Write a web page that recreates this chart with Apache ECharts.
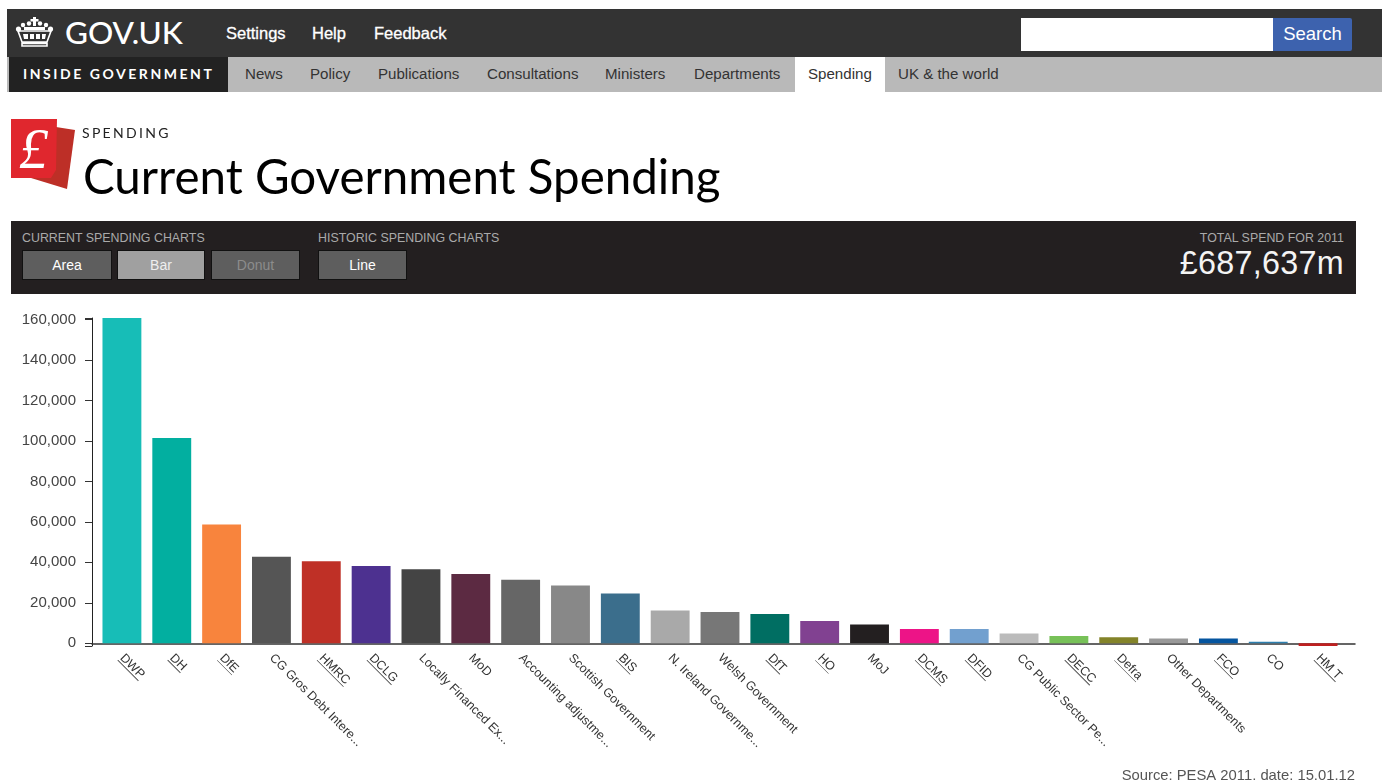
<!DOCTYPE html>
<html>
<head>
<meta charset="utf-8">
<title>Current Government Spending</title>
<script src="https://cdn.jsdelivr.net/npm/echarts@6/dist/echarts.min.js"></script>
<style>
  html, body { margin: 0; padding: 0; width: 1387px; height: 780px; overflow: hidden; background: #fff; }
  body { font-family: "Liberation Sans", Arial, sans-serif; position: relative; }
  #chart { position: absolute; left: 0; top: 0; width: 1387px; height: 780px; }
  .abs { position: absolute; white-space: nowrap; }
  .bar-top { left: 7px; right: 5px; top: 9px; height: 48px; background: #333; }
  .bar-nav { left: 7px; right: 5px; top: 57px; height: 35px; background: #b9b9b9; }
  .inside { left: 9px; top: 57px; width: 219px; height: 35px; background: #222; color: #fff; font: 700 14px/34px Lato, sans-serif; letter-spacing: 2.55px; text-indent: 14px; }
  .gov { left: 65px; top: 12px; color: #fff; font: 500 31.5px/40px Lato, sans-serif; }
  .top-link { top: 24px; color: #fff; font-size: 16.5px; line-height: 18px; font-weight: 400; -webkit-text-stroke: .3px #fff; }
  .nav-link { top: 65px; color: #333; font-size: 15.1px; line-height: 18px; }
  .tab { left: 795px; top: 57px; width: 90px; height: 35px; background: #fff; }
  .search { left: 1021px; top: 18px; width: 252px; height: 33px; background: #fff; }
  .search-btn { left: 1273px; top: 18px; width: 79px; height: 33px; background: #3d62ae; color: #fff; font-size: 18.5px; line-height: 32px; text-align: center; border-radius: 0 2px 2px 0; }
  .section { left: 82px; top: 124px; color: #222; font: 400 14px/18px Lato, sans-serif; letter-spacing: 2.3px; }
  .title { left: 83px; top: 146px; color: #000; font: 400 47.5px/60px Lato, sans-serif; }
  .panel { left: 11px; top: 221px; width: 1345px; height: 73px; background: #231f20; }
  .cap { top: 231px; color: #aaa; font-size: 12.4px; line-height: 14px; }
  .btn { top: 250px; height: 28px; background: #5e5e5e; border: 1px solid #111; color: #fff; font-size: 14px; line-height: 28px; text-align: center; }
  .total { right: 43px; top: 246px; color: #f4f4f4; font-size: 32.3px; line-height: 34px; letter-spacing: .3px; }
</style>
</head>
<body>
<div id="chart"></div>

<div class="abs bar-top"></div>
<div class="abs bar-nav"></div>
<div class="abs inside">INSIDE GOVERNMENT</div>
<div class="abs tab"></div>

<svg class="abs" style="left:15px;top:16px" width="39" height="32" viewBox="0 0 39 32">
  <g fill="#fff">
    <rect x="18" y="1" width="3" height="9"/><rect x="15.5" y="3" width="8" height="2.5"/>
    <circle cx="8" cy="9" r="2.2"/><circle cx="14" cy="7.5" r="2.2"/><circle cx="25" cy="7.5" r="2.2"/><circle cx="31" cy="9" r="2.2"/>
    <circle cx="3.5" cy="13" r="2.6"/><circle cx="35.5" cy="13" r="2.6"/>
    <path d="M3 15 L36 15 L32 26 L7 26 Z M7 27.5 L32 27.5 L32 30 L7 30 Z" fill="none" stroke="#fff" stroke-width="1.6"/>
    <path d="M9 11 H30 V14 H9 Z"/><path d="M8 18 h5 v5 h-4 Z M15 18 h4 v5 h-4 Z M21 18 h4 v5 h-4 Z M27 18 h4 l-1 5 h-3 Z"/>
  </g>
</svg>
<div class="abs gov">GOV.UK</div>
<div class="abs top-link" style="left:226px">Settings</div>
<div class="abs top-link" style="left:312px">Help</div>
<div class="abs top-link" style="left:374px">Feedback</div>
<div class="abs search"></div>
<div class="abs search-btn">Search</div>

<div class="abs nav-link" style="left:245px">News</div>
<div class="abs nav-link" style="left:310px">Policy</div>
<div class="abs nav-link" style="left:378px">Publications</div>
<div class="abs nav-link" style="left:487px">Consultations</div>
<div class="abs nav-link" style="left:605px">Ministers</div>
<div class="abs nav-link" style="left:694px">Departments</div>
<div class="abs nav-link" style="left:808px">Spending</div>
<div class="abs nav-link" style="left:898px">UK &amp; the world</div>

<svg class="abs" style="left:11px;top:118px" width="66" height="72" viewBox="0 0 66 72">
  <polygon points="45,9 64,12 56,71 20,60" fill="#bd2f27"/>
  <polygon points="0,1 46,1 45,52 40,60 0,60" fill="#e0272e"/>
  <text x="8" y="50" font-family="Liberation Serif, serif" font-style="italic" font-size="58" fill="#fff">£</text>
</svg>
<div class="abs section">SPENDING</div>
<div class="abs title">Current Government Spending</div>

<div class="abs panel"></div>
<div class="abs cap" style="left:22px">CURRENT SPENDING CHARTS</div>
<div class="abs cap" style="left:318px">HISTORIC SPENDING CHARTS</div>
<div class="abs btn" style="left:22px;width:88px">Area</div>
<div class="abs btn" style="left:117px;width:86px;background:#a0a0a0;color:#eee">Bar</div>
<div class="abs btn" style="left:211px;width:87px;color:#8c8c8c">Donut</div>
<div class="abs btn" style="left:318px;width:87px">Line</div>
<div class="abs cap" style="right:43px">TOTAL SPEND FOR 2011</div>
<div class="abs total">£687,637m</div>

<script>
// Departmental spend for 2011, £m, largest first
const categories = ['DWP', 'DH', 'DfE', 'CG Gros Debt Intere...', 'HMRC', 'DCLG', 'Locally Financed Ex...', 'MoD',
  'Accounting adjustme...', 'Scottish Government', 'BIS', 'N. Ireland Governme...', 'Welsh Government', 'DfT', 'HO',
  'MoJ', 'DCMS', 'DFID', 'CG Public Sector Pe...', 'DECC', 'Defra', 'Other Departments', 'FCO', 'CO', 'HM T'];
const spend = [160800, 101500, 58700, 42800, 40600, 38200, 36600, 34300, 31400, 28500, 24600, 16200, 15500, 14500,
  11000, 9300, 7000, 7000, 4800, 3600, 3000, 2300, 2300, 800, -1300];
const barColors = ['#17bdb7', '#02afa0', '#f8843d', '#555555', '#bf3026', '#4d3190', '#444444', '#5c2a42', '#666666',
  '#888888', '#3b6e8c', '#a9a9a9', '#777777', '#006e62', '#814191', '#231f20', '#ed1487', '#72a0cf', '#bbbbbb',
  '#77c158', '#838329', '#999999', '#05559f', '#2d7fae', '#bf2020'];
// Departments with their own page; their axis labels are shown as links
const linked = ['DWP', 'DH', 'DfE', 'HMRC', 'DCLG', 'BIS', 'DfT', 'HO', 'DCMS', 'DFID', 'DECC', 'Defra', 'FCO', 'HM T'];
const tickValues = [0, 20000, 40000, 60000, 80000, 100000, 120000, 140000, 160000];
const axisMin = -1350;
const axisMax = 160800;

const underline = {
  type: 'linear', x: 0, y: 0, x2: 0, y2: 1,
  colorStops: [
    { offset: 0, color: 'rgba(0,0,0,0)' }, { offset: 0.92, color: 'rgba(0,0,0,0)' },
    { offset: 0.92, color: '#777' }, { offset: 1, color: '#777' }
  ]
};
const labelStyle = { fontFamily: 'Liberation Sans', fontSize: 12.5, color: '#333' };

const chart = echarts.init(document.getElementById('chart'), null, { renderer: 'canvas' });
chart.setOption({
  animation: false,
  backgroundColor: 'transparent',
  title: {
    text: 'Source: PESA 2011, date: 15.01.12',
    right: 27, top: 763,
    textStyle: { fontFamily: 'Liberation Sans', fontSize: 14.8, fontWeight: 'normal', color: '#555' }
  },
  grid: [
    { left: 97, right: 44, top: 318, bottom: 134 },
    { left: 92, right: 32, top: 318, bottom: 134 }
  ],
  xAxis: [
    {
      type: 'category', gridIndex: 0, data: categories,
      axisLine: { show: false }, axisTick: { show: false },
      axisLabel: {
        interval: 0, rotate: -45, margin: 10, ...labelStyle,
        formatter: v => linked.includes(v) ? '{link|' + v + '}' : v,
        rich: { link: { ...labelStyle, height: 13, lineHeight: 13, backgroundColor: underline } }
      }
    },
    {
      type: 'category', gridIndex: 1, data: [''],
      axisLine: { show: true, onZero: true, lineStyle: { color: '#333', width: 1.5 } },
      axisTick: { show: false }, axisLabel: { show: false }
    }
  ],
  yAxis: [
    { type: 'value', gridIndex: 0, min: axisMin, max: axisMax, show: false },
    {
      type: 'value', gridIndex: 1, min: axisMin, max: axisMax,
      splitLine: { show: false },
      axisLine: { show: true, lineStyle: { color: '#222', width: 1 } },
      axisTick: {
        show: true, length: 7, lineStyle: { color: '#333', width: 1 },
        customValues: [axisMin, ...tickValues, axisMax]
      },
      axisLabel: {
        margin: 16, padding: [5, 0, 0, 0], fontFamily: 'Liberation Sans', fontSize: 15, color: '#444',
        customValues: tickValues,
        formatter: v => v.toLocaleString('en-GB')
      }
    }
  ],
  series: [{
    type: 'bar', xAxisIndex: 0, yAxisIndex: 0, barWidth: '78%',
    data: spend.map((value, i) => ({ value, itemStyle: { color: barColors[i] } }))
  }]
});
</script>
</body>
</html>
